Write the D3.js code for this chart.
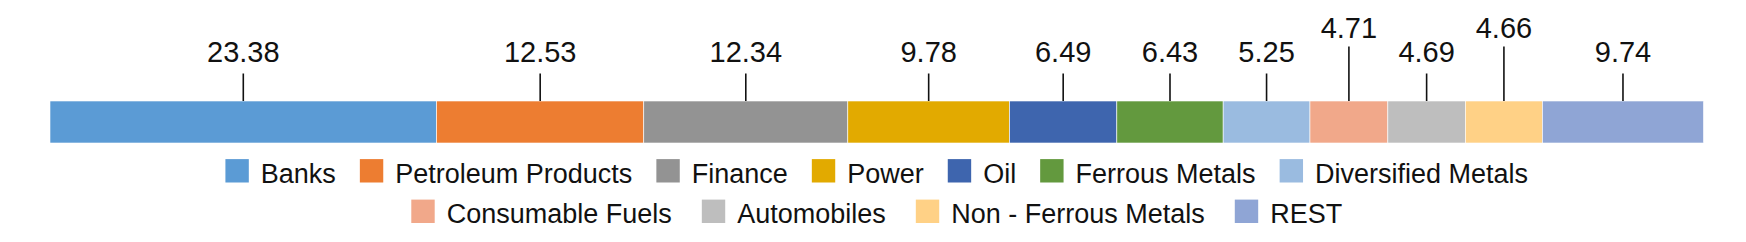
<!DOCTYPE html>
<html>
<head>
<meta charset="utf-8">
<script src="https://cdn.jsdelivr.net/npm/d3@7"></script>
<style>
    body { margin: 0; background: #fff; }
    svg { display: block; font-family: "Liberation Sans", Arial, sans-serif; }
</style>
</head>
<body>
<svg id="svg-sector-bar"></svg>
<script>
(function() {

    const sectors = ['Banks', 'Petroleum Products', 'Finance', 'Power', 'Oil', 'Ferrous Metals',
        'Diversified Metals', 'Consumable Fuels', 'Automobiles', 'Non - Ferrous Metals', 'REST'];
    const weights = [23.38, 12.53, 12.34, 9.78, 6.49, 6.43, 5.25, 4.71, 4.69, 4.66, 9.74];
    const colors = ['#5b9bd5', '#ed7d31', '#939393', '#e2aa00', '#3e65ae', '#63993e',
        '#9abbe0', '#f1a88a', '#bebebe', '#ffd186', '#8fa5d5'];
    const legendRows = [
        ['Banks', 'Petroleum Products', 'Finance', 'Power', 'Oil', 'Ferrous Metals', 'Diversified Metals'],
        ['Consumable Fuels', 'Automobiles', 'Non - Ferrous Metals', 'REST']
    ];

    const w = 1746;
    const h = 242;

    const barLeft = 50;
    const barRight = 1703.5;
    const barTop = 101;
    const barHeight = 42;

    // Stack the segments.
    let acc = 0;
    const stacked = sectors.map((name, i) => {
        const d = {name, value: weights[i], color: colors[i], x0: acc, x1: acc + weights[i]};
        acc += weights[i];
        return d;
    });

    // Scale X
    const scaleX = d3.scaleLinear()
        .domain([0, d3.sum(weights)])
        .range([barLeft, barRight]);

    const colorOf = d3.scaleOrdinal().domain(sectors).range(colors);

    const svg = d3.select('#svg-sector-bar')
        .attr('width', w)
        .attr('height', h);

    // Render bar segments.
    svg.append('g')
        .selectAll('rect')
        .data(stacked)
        .join('rect')
        .attr('x', d => scaleX(d.x0))
        .attr('y', barTop)
        .attr('width', d => scaleX(d.x1) - scaleX(d.x0))
        .attr('height', barHeight)
        .attr('fill', d => d.color)
        .attr('stroke', '#fff')
        .attr('stroke-width', 0.6);

    // Labels that sit too close to the previous low label get lifted.
    let lastLowX = -Infinity;
    stacked.forEach(d => {
        d.cx = scaleX((d.x0 + d.x1) / 2);
        d.raised = d.cx - lastLowX < 90;
        if (!d.raised) lastLowX = d.cx;
    });

    const labels = svg.append('g')
        .selectAll('g')
        .data(stacked)
        .join('g')
        .attr('transform', d => `translate(${d.cx}, 0)`);

    labels.append('line')
        .attr('y1', d => d.raised ? 46.5 : 73.5)
        .attr('y2', barTop)
        .attr('stroke', '#111')
        .attr('stroke-width', 1.6);

    labels.append('text')
        .attr('y', d => d.raised ? 38 : 62)
        .attr('text-anchor', 'middle')
        .attr('font-size', 29)
        .attr('fill', '#111')
        .text(d => d3.format('.2f')(d.value));

    // Legend, two centred rows.
    const centreX = (barLeft + barRight) / 2;
    const rowBaselines = [182.5, 223];
    const rowGaps = [24, 30];
    const swatch = 23.4;

    legendRows.forEach((row, r) => {
        const g = svg.append('g');
        const items = g.selectAll('g')
            .data(row)
            .join('g');

        items.append('rect')
            .attr('width', swatch)
            .attr('height', swatch)
            .attr('y', rowBaselines[r] - swatch)
            .attr('fill', d => colorOf(d));

        items.append('text')
            .attr('x', swatch + 12)
            .attr('y', rowBaselines[r])
            .attr('font-size', 27)
            .attr('fill', '#111')
            .text(d => d);

        let x = 0;
        items.each(function() {
            d3.select(this).attr('transform', `translate(${x}, 0)`);
            x += this.getBBox().width + rowGaps[r];
        });
        x -= rowGaps[r];
        g.attr('transform', `translate(${centreX - x / 2}, 0)`);
    });

})();
</script>
</body>
</html>
